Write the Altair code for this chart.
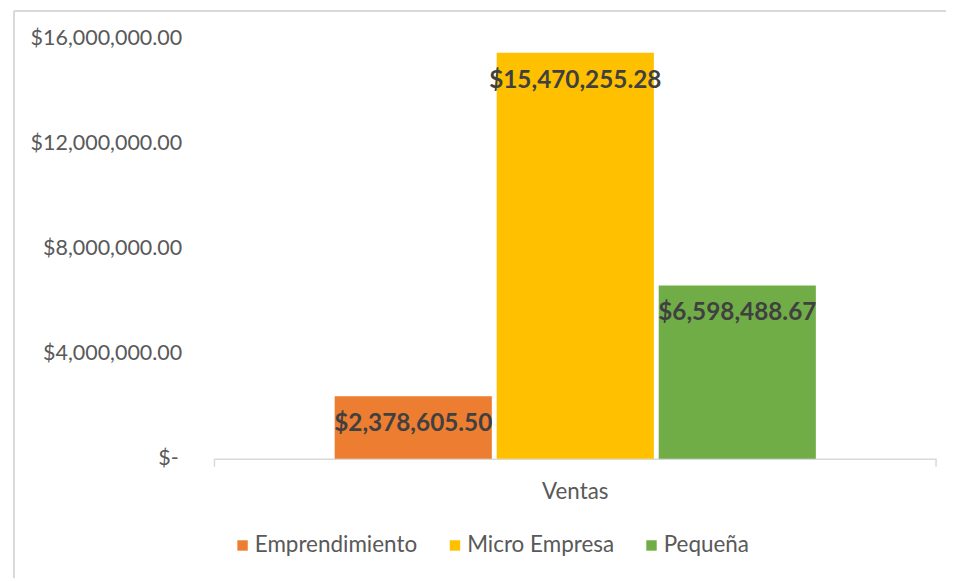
import altair as alt
import pandas as pd

group = ["Ventas", "Ventas", "Ventas"]
series = ["Emprendimiento", "Micro Empresa", "Pequeña"]
values = [2378605.50, 15470255.28, 6598488.67]
colors = ["#ED7D31", "#FFC000", "#70AD47"]
y_ticks = [0, 4000000, 8000000, 12000000, 16000000]
zero_label = ["$-"]

df = pd.DataFrame({"Grupo": group, "Serie": series, "Valor": values})

FONT = "Lato"
W, H = 727, 423

x_enc = alt.X("Grupo:N", title=None,
              scale=alt.Scale(paddingInner=0, paddingOuter=0),
              axis=alt.Axis(labelAngle=0, ticks=False, labelPadding=22,
                            labelFontSize=22.5, labelColor="#595959", labelFont=FONT,
                            domainColor="#D9D9D9", domainWidth=1.5))
xo_enc = alt.XOffset("Serie:N", sort=series,
                     scale=alt.Scale(paddingInner=0.03, paddingOuter=0.742))
y_scale = alt.Scale(domain=[0, 16000000], nice=False)
y_enc = alt.Y("Valor:Q", title=None, scale=y_scale,
              axis=alt.Axis(values=y_ticks, grid=False, ticks=False, domain=False,
                            labelPadding=33, labelFontSize=21.6, labelColor="#595959",
                            labelFont=FONT,
                            labelExpr="datum.value == 0 ? '' : '$' + format(datum.value, ',.2f')"))

base = alt.Chart(df)

bars = base.mark_bar().encode(
    x=x_enc, xOffset=xo_enc, y=y_enc,
    color=alt.Color("Serie:N", sort=series,
                    scale=alt.Scale(domain=series, range=colors),
                    legend=alt.Legend(title=None, orient="none", direction="horizontal",
                                      legendX=17, legendY=499, symbolType="square",
                                      symbolSize=110, symbolStrokeWidth=0,
                                      labelFontSize=22.6, labelColor="#595959",
                                      labelLimit=400,
                                      labelFont=FONT, columnPadding=26, labelOffset=1)),
)

labels = base.mark_text(baseline="middle", dy=28, fontWeight="bold",
                        fontSize=24.5, font=FONT, color="#404040").encode(
    x=x_enc, xOffset=xo_enc, y=y_enc,
    text=alt.Text("Valor:Q", format="$,.2f"),
)

zero_df = pd.DataFrame({"Valor": [0], "Etiqueta": zero_label})
zero_text = alt.Chart(zero_df).mark_text(
    align="right", baseline="middle", fontSize=21.6, font=FONT, color="#595959"
).encode(
    x=alt.value(-36),
    y=alt.Y("Valor:Q", scale=y_scale, title=None),
    text="Etiqueta:N",
)

one = alt.Data(values=[{"k": 1}])
tick_l = alt.Chart(one).mark_rule(color="#D9D9D9", strokeWidth=1.5).encode(
    x=alt.value(0), y=alt.value(H), y2=alt.value(H + 8))
tick_r = alt.Chart(one).mark_rule(color="#D9D9D9", strokeWidth=1.5).encode(
    x=alt.value(W), y=alt.value(H), y2=alt.value(H + 8))
border_top = alt.Chart(one).mark_rule(color="#D9D9D9", strokeWidth=2).encode(
    x=alt.value(-202), x2=alt.value(W + 20), y=alt.value(-28))
border_left = alt.Chart(one).mark_rule(color="#D9D9D9", strokeWidth=2).encode(
    x=alt.value(-202), y=alt.value(-28), y2=alt.value(H + 125))

chart = alt.layer(border_top, border_left, bars, labels, zero_text, tick_l, tick_r).properties(
    width=W, height=H,
    background="white",
    autosize=alt.AutoSizeParams(type="none"),
    padding={"left": 208, "top": 29, "right": 10, "bottom": 118},
).configure_view(strokeWidth=0)

chart.save("out.html", embed_options={"renderer": "svg", "actions": False})
